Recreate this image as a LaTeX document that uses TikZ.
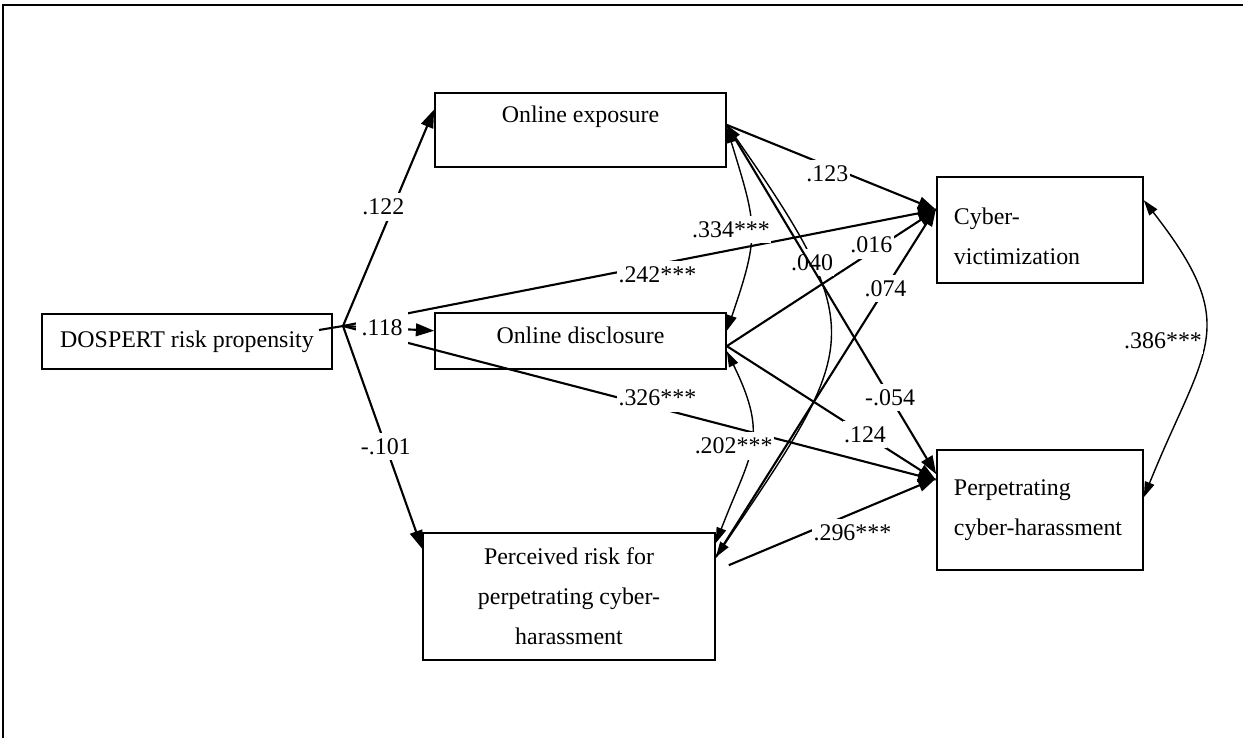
\documentclass[tikz,border=0pt]{standalone}
\usepackage{fontspec}
\setmainfont{Liberation Serif}
\usetikzlibrary{arrows.meta}

\begin{document}
\begin{tikzpicture}[x=0.025cm, y=0.025cm,
    font=\fontsize{17}{28.5}\selectfont,
    >={Triangle[length=13pt,width=9pt]},
    box/.style={draw, line width=1.1pt, inner sep=0pt},
    effect/.style={->, line width=1.5pt},
    corr/.style={<->, >={Triangle[length=11pt,width=7pt]}, line width=1pt},
    lbl/.style={fill=white, inner xsep=1pt, inner ysep=4pt}]
    \useasboundingbox (0,0) rectangle (1243,-738);

    % Frame
    \draw[line width=1.3pt] (3,-738) -- (3,-5) -- (1243,-5);

    % Variables
    \node[box, minimum width=7.25cm, minimum height=1.375cm] (dosp) at (187,-341.5) {DOSPERT risk propensity};
    \node[box, minimum width=7.275cm, minimum height=1.85cm, text depth=22pt] (expo) at (580.5,-130) {Online exposure};
    \node[box, minimum width=7.275cm, minimum height=1.4cm, text depth=8pt] (discl) at (580.5,-341) {Online disclosure};
    \node[box, minimum width=7.3cm, minimum height=3.175cm, align=center] (risk) at (569,-596.5) {Perceived risk for\\perpetrating cyber-\\harassment};
    \node[box, minimum width=5.15cm, minimum height=2.65cm, text width=4.3cm, text height=21pt, align=left] (vict) at (1040,-230) {Cyber-\\victimization};
    \node[box, minimum width=5.15cm, minimum height=3cm, text width=4.3cm, align=left] (perp) at (1040,-510) {Perpetrating\\cyber-harassment};

    % Paths from DOSPERT
    \coordinate (stub) at (319,-330);
    \coordinate (src) at (343,-326);
    \draw[line width=1.5pt] (stub) -- (src);
    \draw[effect] (src) -- node[lbl, pos=.55, xshift=-7pt] (l122) {.122} (expo.172);
    \draw[effect] (src) -- node[lbl, pos=.53, yshift=-7pt] (l242) {.242***} (vict.169);
    \draw[effect] (src) -- node[lbl, pos=.53, yshift=7pt] (l326) {.326***} (perp.164);
    \draw[effect] (src) -- node[lbl, pos=.54] (l101) {-.101} (risk.162);
    \draw[effect] (src) -- node[lbl, pos=.43, inner xsep=4pt, inner ysep=7pt] (l118) {.118} (discl.176);

    % Paths to the outcomes
    \draw[effect] (expo.2) -- node[lbl, pos=.48, yshift=-6pt] (l123) {.123} (vict.169);
    \draw[effect] (discl.-2) -- node[lbl, pos=.69, yshift=5pt] (l016) {.016} (vict.169);
    \draw[effect] (discl.-2) -- node[lbl, pos=.66] (l124) {.124} (perp.164);
    \draw[effect] (risk.15) -- node[lbl, pos=.77] (l074) {.074} (vict.168);
    \draw[effect, shorten <=10pt] (risk.10) -- node[lbl, pos=.62, yshift=-14pt] (l296) {.296***} (perp.163);

    % Correlations
    \draw[corr] (expo.1) to[out=-73, in=71, looseness=1.3] node[lbl, pos=.5, xshift=-14pt] (l334) {.334***} (discl.4);
    \draw[corr] (discl.-4) to[out=-64, in=69, looseness=1.3] node[lbl, pos=.5, xshift=-12pt] (l202) {.202***} (risk.20);
    \draw[corr] (vict.16) to[out=-52, in=68, looseness=1.4] node[lbl, pos=.5, anchor=east] (l386) {.386***} (perp.7);
    \draw[corr] (expo.2) to[out=-55, in=56, looseness=1.5] node[lbl, pos=.28] (l040) {.040} (risk.15);

    % Exposure -> perpetrating
    \draw[effect] (expo.2) -- node[lbl, pos=.78] (l054) {-.054} (perp.161);
\end{tikzpicture}
\end{document}
